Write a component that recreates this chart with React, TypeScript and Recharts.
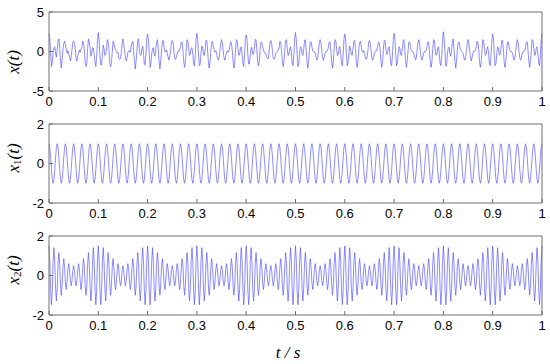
import React from 'react';
import { LineChart, Line, XAxis, YAxis } from 'recharts';

// sampled at 600 points per second, 0..1 s
const sampleRate = 600;

const timeTicks = [0, 0.1, 0.2, 0.3, 0.4, 0.5, 0.6, 0.7, 0.8, 0.9, 1];
const mixTicks = [-5, 0, 5];
const compTicks = [-2, 0, 2];

// x(t): the measured mixture
const xValues = [
  2.3, 1.7, -.2, -1.9, -1.4, -.1, .5, .6, -.2, -.7,
  .2, 1.3, 1.6, .4, -1.2, -2.1, -1.1, .3, 1.0, 1.3,
  .8, .3, -.2, .1, -.4, -.6, -1.2, -.7, .2, 1.2,
  1.3, 1.0, .3, -.9, -1.2, -.5, -.3, .2, -.1, .3,
  .5, 1.3, 1.0, .3, -1.4, -1.9, -1.5, .4, 1.6, 1.2,
  .5, -.6, -.2, .5, .4, -.4, -1.4, -1.9, -.6, 1.4,
  2.4, 1.4, -.5, -1.7, -1.7, -.4, .8, .3, -.5, -.4,
  .5, 1.5, 1.3, .1, -1.5, -1.9, -1.4, 0, 1.3, 1.1,
  .5, .2, .1, -.2, -.1, -.9, -1.0, -.9, -.1, 1.0,
  1.6, .9, .1, -.7, -1.2, -.8, -.1, .1, .1, -.1,
  .7, 1.1, 1.3, 0, -1.1, -2.2, -1.2, .1, 1.4, 1.6,
  .2, -.4, -.5, .3, .7, -.2, -1.6, -1.7, -.3, 1.7,
  2.2, 1.6, -.3, -2.0, -1.5, -.3, .4, .5, -.4, -.6,
  .4, 1.2, 1.5, .3, -1.3, -2.2, -1.2, .2, 1.2, 1.4,
  .6, 0, 0, .2, -.3, -.7, -1.1, -.6, .1, 1.1,
  1.4, 1.2, -.1, -.8, -1.0, -.7, -.3, .1, 0, .2,
  .6, 1.2, 1.2, .2, -1.3, -2.0, -1.3, .3, 1.5, 1.3,
  .4, -.5, -.3, .4, .5, -.3, -1.5, -1.8, -.5, 1.5,
  2.3, 1.5, -.6, -1.8, -1.6, -.2, .7, .4, -.3, -.5,
  .3, 1.4, 1.4, .2, -1.4, -2.1, -1.3, .1, 1.1, 1.3,
  .7, .1, -.1, .1, -.2, -.8, -1.1, -.8, 0, 1.0,
  1.5, 1.1, .1, -.8, -1.1, -.6, -.2, .1, -.1, .1,
  .6, 1.2, 1.1, .2, -1.2, -2.1, -1.4, .2, 1.5, 1.4,
  .3, -.5, -.4, .4, .6, -.3, -1.5, -1.9, -.4, 1.5,
  2.1, 1.6, -.4, -1.6, -1.5, -.4, .5, .5, -.4, -.3,
  .4, 1.5, 1.5, .3, -1.4, -1.8, -1.3, .3, 1.2, 1.1,
  .6, .2, -.1, -.1, -.3, -.7, -.9, -.9, .1, 1.2,
  1.4, 1.0, 0, -.9, -1.0, -.8, -.2, -.1, 0, .2,
  .5, 1.3, 1.1, .1, -1.3, -1.9, -1.2, .3, 1.4, 1.5,
  .4, -.5, -.3, .3, .6, -.2, -1.6, -1.8, -.4, 1.6,
  2.4, 1.5, -.4, -1.9, -1.6, -.3, .6, .4, -.3, -.5,
  .3, 1.4, 1.5, .2, -1.3, -2.1, -1.2, .1, 1.2, 1.2,
  .6, .1, 0, 0, -.2, -.7, -1.1, -.8, .1, 1.1,
  1.5, 1.1, 0, -.8, -1.1, -.7, -.2, 0, 0, .1,
  .6, 1.2, 1.2, .1, -1.3, -2.1, -1.3, .2, 1.5, 1.4,
  .4, -.5, -.4, .4, .6, -.3, -1.5, -1.8, -.4, 1.5,
  2.2, 1.7, -.5, -1.8, -1.4, -.2, .7, .3, -.4, -.5,
  .4, 1.3, 1.4, .3, -1.4, -2.0, -1.3, .2, 1.1, 1.3,
  .7, 0, -.1, .1, -.3, -.7, -1.0, -.8, 0, 1.1,
  1.4, 1.0, .1, -.9, -1.1, -.7, -.3, 0, .1, .1,
  .7, 1.2, 1.1, .2, -1.3, -2.0, -1.4, .3, 1.4, 1.4,
  .3, -.4, -.3, .4, .6, -.3, -1.6, -1.8, -.5, 1.5,
  2.3, 1.6, -.4, -1.8, -1.5, -.3, .6, .4, -.4, -.5,
  .4, 1.4, 1.5, .2, -1.3, -2.0, -1.3, .1, 1.2, 1.2,
  .6, .1, 0, 0, -.2, -.7, -1.1, -.8, .1, 1.1,
  1.5, 1.1, 0, -.8, -1.1, -.7, -.2, 0, 0, .1,
  .6, 1.2, 1.2, .1, -1.3, -2.0, -1.3, .2, 1.5, 1.4,
  .4, -.5, -.4, .4, .6, -.3, -1.5, -1.8, -.4, 1.6,
  2.5, 1.5, -.3, -1.9, -1.6, -.2, .5, .5, -.3, -.6,
  .3, 1.4, 1.6, .2, -1.3, -2.1, -1.2, .2, 1.1, 1.2,
  .6, .2, 0, -.1, -.2, -.8, -1.1, -.8, .1, 1.0,
  1.5, 1.0, .1, -.8, -1.2, -.7, -.2, .1, 0, .1,
  .6, 1.3, 1.1, .2, -1.3, -2.0, -1.3, .3, 1.5, 1.3,
  .4, -.5, -.3, .3, .6, -.3, -1.6, -1.8, -.4, 1.5,
  2.2, 1.6, -.5, -1.8, -1.5, -.3, .6, .4, -.4, -.4,
  .4, 1.4, 1.4, .3, -1.4, -2.0, -1.3, .1, 1.2, 1.2,
  .6, .1, 0, 0, -.2, -.7, -1.1, -.8, 0, 1.1,
  1.5, 1.1, 0, -.8, -1.1, -.7, -.2, 0, 0, .1,
  .6, 1.2, 1.2, .1, -1.3, -2.0, -1.3, .2, 1.5, 1.4,
  .4, -.5, -.4, .4, .6, -.3, -1.5, -1.8, -.4, 1.6,
  2.3,
];

// x1(t): steady 60 Hz component
const x1Values = [
  1, .81, .31, -.31, -.81, -1, -.81, -.31, .31, .81,
  1, .81, .31, -.31, -.81, -1, -.81, -.31, .31, .81,
  1, .81, .31, -.31, -.81, -1, -.81, -.31, .31, .81,
  1, .81, .31, -.31, -.81, -1, -.81, -.31, .31, .81,
  1, .81, .31, -.31, -.81, -1, -.81, -.31, .31, .81,
  1, .81, .31, -.31, -.81, -1, -.81, -.31, .31, .81,
  1, .81, .31, -.31, -.81, -1, -.81, -.31, .31, .81,
  1, .81, .31, -.31, -.81, -1, -.81, -.31, .31, .81,
  1, .81, .31, -.31, -.81, -1, -.81, -.31, .31, .81,
  1, .81, .31, -.31, -.81, -1, -.81, -.31, .31, .81,
  1, .81, .31, -.31, -.81, -1, -.81, -.31, .31, .81,
  1, .81, .31, -.31, -.81, -1, -.81, -.31, .31, .81,
  1, .81, .31, -.31, -.81, -1, -.81, -.31, .31, .81,
  1, .81, .31, -.31, -.81, -1, -.81, -.31, .31, .81,
  1, .81, .31, -.31, -.81, -1, -.81, -.31, .31, .81,
  1, .81, .31, -.31, -.81, -1, -.81, -.31, .31, .81,
  1, .81, .31, -.31, -.81, -1, -.81, -.31, .31, .81,
  1, .81, .31, -.31, -.81, -1, -.81, -.31, .31, .81,
  1, .81, .31, -.31, -.81, -1, -.81, -.31, .31, .81,
  1, .81, .31, -.31, -.81, -1, -.81, -.31, .31, .81,
  1, .81, .31, -.31, -.81, -1, -.81, -.31, .31, .81,
  1, .81, .31, -.31, -.81, -1, -.81, -.31, .31, .81,
  1, .81, .31, -.31, -.81, -1, -.81, -.31, .31, .81,
  1, .81, .31, -.31, -.81, -1, -.81, -.31, .31, .81,
  1, .81, .31, -.31, -.81, -1, -.81, -.31, .31, .81,
  1, .81, .31, -.31, -.81, -1, -.81, -.31, .31, .81,
  1, .81, .31, -.31, -.81, -1, -.81, -.31, .31, .81,
  1, .81, .31, -.31, -.81, -1, -.81, -.31, .31, .81,
  1, .81, .31, -.31, -.81, -1, -.81, -.31, .31, .81,
  1, .81, .31, -.31, -.81, -1, -.81, -.31, .31, .81,
  1, .81, .31, -.31, -.81, -1, -.81, -.31, .31, .81,
  1, .81, .31, -.31, -.81, -1, -.81, -.31, .31, .81,
  1, .81, .31, -.31, -.81, -1, -.81, -.31, .31, .81,
  1, .81, .31, -.31, -.81, -1, -.81, -.31, .31, .81,
  1, .81, .31, -.31, -.81, -1, -.81, -.31, .31, .81,
  1, .81, .31, -.31, -.81, -1, -.81, -.31, .31, .81,
  1, .81, .31, -.31, -.81, -1, -.81, -.31, .31, .81,
  1, .81, .31, -.31, -.81, -1, -.81, -.31, .31, .81,
  1, .81, .31, -.31, -.81, -1, -.81, -.31, .31, .81,
  1, .81, .31, -.31, -.81, -1, -.81, -.31, .31, .81,
  1, .81, .31, -.31, -.81, -1, -.81, -.31, .31, .81,
  1, .81, .31, -.31, -.81, -1, -.81, -.31, .31, .81,
  1, .81, .31, -.31, -.81, -1, -.81, -.31, .31, .81,
  1, .81, .31, -.31, -.81, -1, -.81, -.31, .31, .81,
  1, .81, .31, -.31, -.81, -1, -.81, -.31, .31, .81,
  1, .81, .31, -.31, -.81, -1, -.81, -.31, .31, .81,
  1, .81, .31, -.31, -.81, -1, -.81, -.31, .31, .81,
  1, .81, .31, -.31, -.81, -1, -.81, -.31, .31, .81,
  1, .81, .31, -.31, -.81, -1, -.81, -.31, .31, .81,
  1, .81, .31, -.31, -.81, -1, -.81, -.31, .31, .81,
  1, .81, .31, -.31, -.81, -1, -.81, -.31, .31, .81,
  1, .81, .31, -.31, -.81, -1, -.81, -.31, .31, .81,
  1, .81, .31, -.31, -.81, -1, -.81, -.31, .31, .81,
  1, .81, .31, -.31, -.81, -1, -.81, -.31, .31, .81,
  1, .81, .31, -.31, -.81, -1, -.81, -.31, .31, .81,
  1, .81, .31, -.31, -.81, -1, -.81, -.31, .31, .81,
  1, .81, .31, -.31, -.81, -1, -.81, -.31, .31, .81,
  1, .81, .31, -.31, -.81, -1, -.81, -.31, .31, .81,
  1, .81, .31, -.31, -.81, -1, -.81, -.31, .31, .81,
  1, .81, .31, -.31, -.81, -1, -.81, -.31, .31, .81,
  1,
];

// x2(t): 100 Hz carrier with a 10 Hz envelope
const x2Values = [
  1.5, .75, -.74, -1.48, -.73, .72, 1.41, .69, -.67, -1.29,
  -.63, .6, 1.16, .55, -.53, -1, -.47, .45, .85, .4,
  -.38, -.71, -.33, .31, .6, .28, -.27, -.52, -.26, .25,
  .5, .25, -.26, -.52, -.27, .28, .6, .31, -.33, -.71,
  -.38, .4, .85, .45, -.47, -1, -.53, .55, 1.16, .6,
  -.63, -1.29, -.67, .69, 1.41, .72, -.73, -1.48, -.74, .75,
  1.5, .75, -.74, -1.48, -.73, .72, 1.41, .69, -.67, -1.29,
  -.63, .6, 1.16, .55, -.53, -1, -.47, .45, .85, .4,
  -.38, -.71, -.33, .31, .6, .28, -.27, -.52, -.26, .25,
  .5, .25, -.26, -.52, -.27, .28, .6, .31, -.33, -.71,
  -.38, .4, .85, .45, -.47, -1, -.53, .55, 1.16, .6,
  -.63, -1.29, -.67, .69, 1.41, .72, -.73, -1.48, -.74, .75,
  1.5, .75, -.74, -1.48, -.73, .72, 1.41, .69, -.67, -1.29,
  -.63, .6, 1.16, .55, -.53, -1, -.47, .45, .85, .4,
  -.38, -.71, -.33, .31, .6, .28, -.27, -.52, -.26, .25,
  .5, .25, -.26, -.52, -.27, .28, .6, .31, -.33, -.71,
  -.38, .4, .85, .45, -.47, -1, -.53, .55, 1.16, .6,
  -.63, -1.29, -.67, .69, 1.41, .72, -.73, -1.48, -.74, .75,
  1.5, .75, -.74, -1.48, -.73, .72, 1.41, .69, -.67, -1.29,
  -.63, .6, 1.16, .55, -.53, -1, -.47, .45, .85, .4,
  -.38, -.71, -.33, .31, .6, .28, -.27, -.52, -.26, .25,
  .5, .25, -.26, -.52, -.27, .28, .6, .31, -.33, -.71,
  -.38, .4, .85, .45, -.47, -1, -.53, .55, 1.16, .6,
  -.63, -1.29, -.67, .69, 1.41, .72, -.73, -1.48, -.74, .75,
  1.5, .75, -.74, -1.48, -.73, .72, 1.41, .69, -.67, -1.29,
  -.63, .6, 1.16, .55, -.53, -1, -.47, .45, .85, .4,
  -.38, -.71, -.33, .31, .6, .28, -.27, -.52, -.26, .25,
  .5, .25, -.26, -.52, -.27, .28, .6, .31, -.33, -.71,
  -.38, .4, .85, .45, -.47, -1, -.53, .55, 1.16, .6,
  -.63, -1.29, -.67, .69, 1.41, .72, -.73, -1.48, -.74, .75,
  1.5, .75, -.74, -1.48, -.73, .72, 1.41, .69, -.67, -1.29,
  -.63, .6, 1.16, .55, -.53, -1, -.47, .45, .85, .4,
  -.38, -.71, -.33, .31, .6, .28, -.27, -.52, -.26, .25,
  .5, .25, -.26, -.52, -.27, .28, .6, .31, -.33, -.71,
  -.38, .4, .85, .45, -.47, -1, -.53, .55, 1.16, .6,
  -.63, -1.29, -.67, .69, 1.41, .72, -.73, -1.48, -.74, .75,
  1.5, .75, -.74, -1.48, -.73, .72, 1.41, .69, -.67, -1.29,
  -.63, .6, 1.16, .55, -.53, -1, -.47, .45, .85, .4,
  -.38, -.71, -.33, .31, .6, .28, -.27, -.52, -.26, .25,
  .5, .25, -.26, -.52, -.27, .28, .6, .31, -.33, -.71,
  -.38, .4, .85, .45, -.47, -1, -.53, .55, 1.16, .6,
  -.63, -1.29, -.67, .69, 1.41, .72, -.73, -1.48, -.74, .75,
  1.5, .75, -.74, -1.48, -.73, .72, 1.41, .69, -.67, -1.29,
  -.63, .6, 1.16, .55, -.53, -1, -.47, .45, .85, .4,
  -.38, -.71, -.33, .31, .6, .28, -.27, -.52, -.26, .25,
  .5, .25, -.26, -.52, -.27, .28, .6, .31, -.33, -.71,
  -.38, .4, .85, .45, -.47, -1, -.53, .55, 1.16, .6,
  -.63, -1.29, -.67, .69, 1.41, .72, -.73, -1.48, -.74, .75,
  1.5, .75, -.74, -1.48, -.73, .72, 1.41, .69, -.67, -1.29,
  -.63, .6, 1.16, .55, -.53, -1, -.47, .45, .85, .4,
  -.38, -.71, -.33, .31, .6, .28, -.27, -.52, -.26, .25,
  .5, .25, -.26, -.52, -.27, .28, .6, .31, -.33, -.71,
  -.38, .4, .85, .45, -.47, -1, -.53, .55, 1.16, .6,
  -.63, -1.29, -.67, .69, 1.41, .72, -.73, -1.48, -.74, .75,
  1.5, .75, -.74, -1.48, -.73, .72, 1.41, .69, -.67, -1.29,
  -.63, .6, 1.16, .55, -.53, -1, -.47, .45, .85, .4,
  -.38, -.71, -.33, .31, .6, .28, -.27, -.52, -.26, .25,
  .5, .25, -.26, -.52, -.27, .28, .6, .31, -.33, -.71,
  -.38, .4, .85, .45, -.47, -1, -.53, .55, 1.16, .6,
  -.63, -1.29, -.67, .69, 1.41, .72, -.73, -1.48, -.74, .75,
  1.5,
];

const rows = xValues.map((v, i) => ({
  t: i / sampleRate,
  x: v,
  x1: x1Values[i],
  x2: x2Values[i],
}));

const boxColor = '#6e6e6e';
const lineColor = '#4d4dff';
const tickFont = { fontSize: 13, fill: '#000', fontFamily: "'Liberation Sans', Arial, sans-serif" };
const serif = "'Liberation Serif', 'Times New Roman', serif";

const YTitle = ({ cx, cy, sub }: { cx: number; cy: number; sub?: string }) => (
  <text
    x={cx}
    y={cy}
    transform={`rotate(-90 ${cx} ${cy})`}
    textAnchor="middle"
    dominantBaseline="central"
    fontFamily={serif}
    fontSize={17}
    fontStyle="italic"
    fill="#000"
  >
    x
    {sub ? (
      <tspan fontSize={11} fontStyle="normal" dy={4}>
        {sub}
      </tspan>
    ) : null}
    <tspan dy={sub ? -4 : 0}>(t)</tspan>
  </text>
);

const XTitle = () => (
  <text x={288} y={134} textAnchor="middle" fontFamily={serif} fontSize={17} fontStyle="italic" fill="#000">
    t / s
  </text>
);

interface PanelProps {
  top: number;
  height: number;
  dataKey: string;
  domain: [number, number];
  ticks: number[];
  title: React.ReactElement;
  xTitle?: React.ReactElement;
}

const Panel = ({ top, height, dataKey, domain, ticks, title, xTitle }: PanelProps) => (
  <div style={{ position: 'absolute', left: 0, top }}>
    <LineChart width={550} height={height} data={rows} margin={{ top: 11, right: 7, left: 0, bottom: 0 }}>
      <XAxis
        xAxisId="b"
        dataKey="t"
        type="number"
        domain={[0, 1]}
        ticks={timeTicks}
        interval={0}
        height={height - 91}
        stroke={boxColor}
        tickSize={-4}
        tickMargin={10}
        tick={tickFont}
        label={xTitle}
      />
      <XAxis
        xAxisId="t"
        orientation="top"
        dataKey="t"
        type="number"
        domain={[0, 1]}
        ticks={timeTicks}
        interval={0}
        height={1}
        stroke={boxColor}
        tickSize={-4}
        tick={false}
      />
      <YAxis
        yAxisId="l"
        type="number"
        domain={domain}
        ticks={ticks}
        interval={0}
        width={49}
        stroke={boxColor}
        tickSize={-4}
        tickMargin={9}
        tick={tickFont}
        label={title}
      />
      <YAxis
        yAxisId="r"
        orientation="right"
        type="number"
        domain={domain}
        ticks={ticks}
        interval={0}
        width={1}
        stroke={boxColor}
        tickSize={-4}
        tick={false}
      />
      <Line
        xAxisId="b"
        yAxisId="l"
        type="linear"
        dataKey={dataKey}
        stroke={lineColor}
        strokeWidth={0.65}
        dot={false}
        isAnimationActive={false}
      />
    </LineChart>
  </div>
);

export default function App() {
  return (
    <div style={{ position: 'absolute', left: 0, top: 0, width: 550, height: 364, background: '#fff' }}>
      <Panel top={0} height={112} dataKey="x" domain={[-5, 5]} ticks={mixTicks} title={<YTitle cx={13} cy={62} />} />
      <Panel top={112} height={112} dataKey="x1" domain={[-2, 2]} ticks={compTicks} title={<YTitle cx={13} cy={46} sub="1" />} />
      <Panel
        top={224}
        height={140}
        dataKey="x2"
        domain={[-2, 2]}
        ticks={compTicks}
        title={<YTitle cx={13} cy={46} sub="2" />}
        xTitle={<XTitle />}
      />
    </div>
  );
}
